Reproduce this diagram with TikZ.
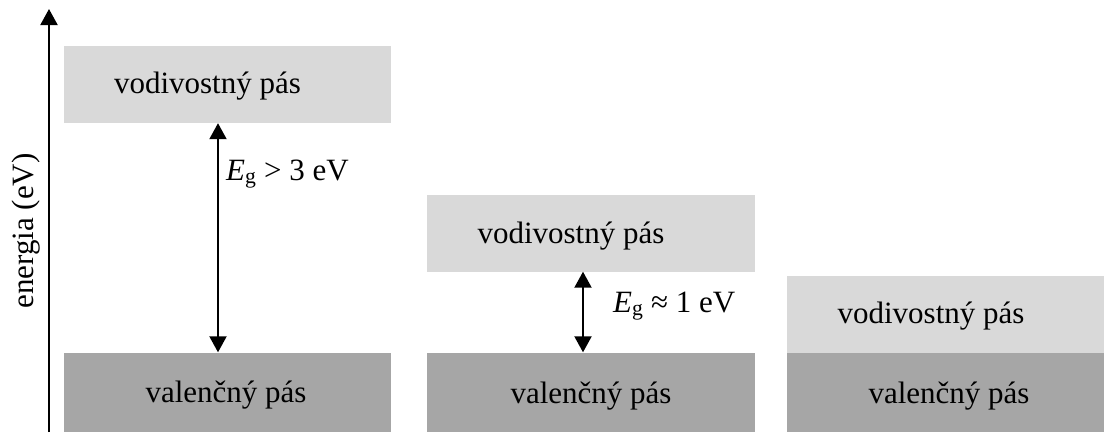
\documentclass[tikz,border=0pt]{standalone}
\usepackage{fontspec}
\setmainfont{Liberation Serif}
\usetikzlibrary{arrows.meta}
\definecolor{cbandcol}{HTML}{D9D9D9}
\definecolor{vbandcol}{HTML}{A6A6A6}
\begin{document}
\begin{tikzpicture}[x=1pt,y=-1pt,
  band/.style={rectangle,inner sep=0pt,draw=none},
  cband/.style={band,fill=cbandcol},
  vband/.style={band,fill=vbandcol},
  lbl/.style={inner sep=0pt,anchor=base,font=\fontsize{31}{36}\selectfont},
  gap/.style={line width=2pt,{Triangle[width=17pt,length=16pt]}-{Triangle[width=17pt,length=16pt]}},
  axis/.style={line width=2pt,-{Triangle[width=17pt,length=16pt]}}]
\useasboundingbox (0,0) rectangle (1104,432);
% bands
\node[cband,minimum width=327pt,minimum height=77pt] (c1) at (227.5,84.5) {};
\node[vband,minimum width=327pt,minimum height=79.5pt] (v1) at (227.5,392.25) {};
\node[cband,minimum width=328pt,minimum height=76.5pt] (c2) at (591,233.25) {};
\node[vband,minimum width=328pt,minimum height=79.5pt] (v2) at (591,392.25) {};
\node[cband,minimum width=317pt,minimum height=76.5pt] (c3) at (945.5,314.25) {};
\node[vband,minimum width=317pt,minimum height=79.5pt] (v3) at (945.5,392.25) {};
% band labels
\node[lbl] (tc1) at (207.5,93) {vodivostný pás};
\node[lbl] (tv1) at (226,402) {valenčný pás};
\node[lbl] (tc2) at (571,243) {vodivostný pás};
\node[lbl] (tv2) at (591,403) {valenčný pás};
\node[lbl] (tc3) at (931,323) {vodivostný pás};
\node[lbl] (tv3) at (949,403) {valenčný pás};
% axis
\coordinate (ax0) at (49,432);
\coordinate (ax1) at (49,9);
\draw[axis] (ax0) -- (ax1);
\node[lbl,rotate=90] (elbl) at (34,231) {energia (eV)};
% gaps
\coordinate (g1) at (218,0);
\coordinate (g2) at (583,0);
\draw[gap] (c1.south -| g1) -- (v1.north -| g1);
\draw[gap] (c2.south -| g2) -- (v2.north -| g2);
\node[lbl,anchor=base west] (eg1) at (226,180) {\textit{E}\textsubscript{g} > 3 eV};
\node[lbl,anchor=base west] (eg2) at (613,312) {\textit{E}\textsubscript{g} ≈ 1 eV};
\end{tikzpicture}
\end{document}
